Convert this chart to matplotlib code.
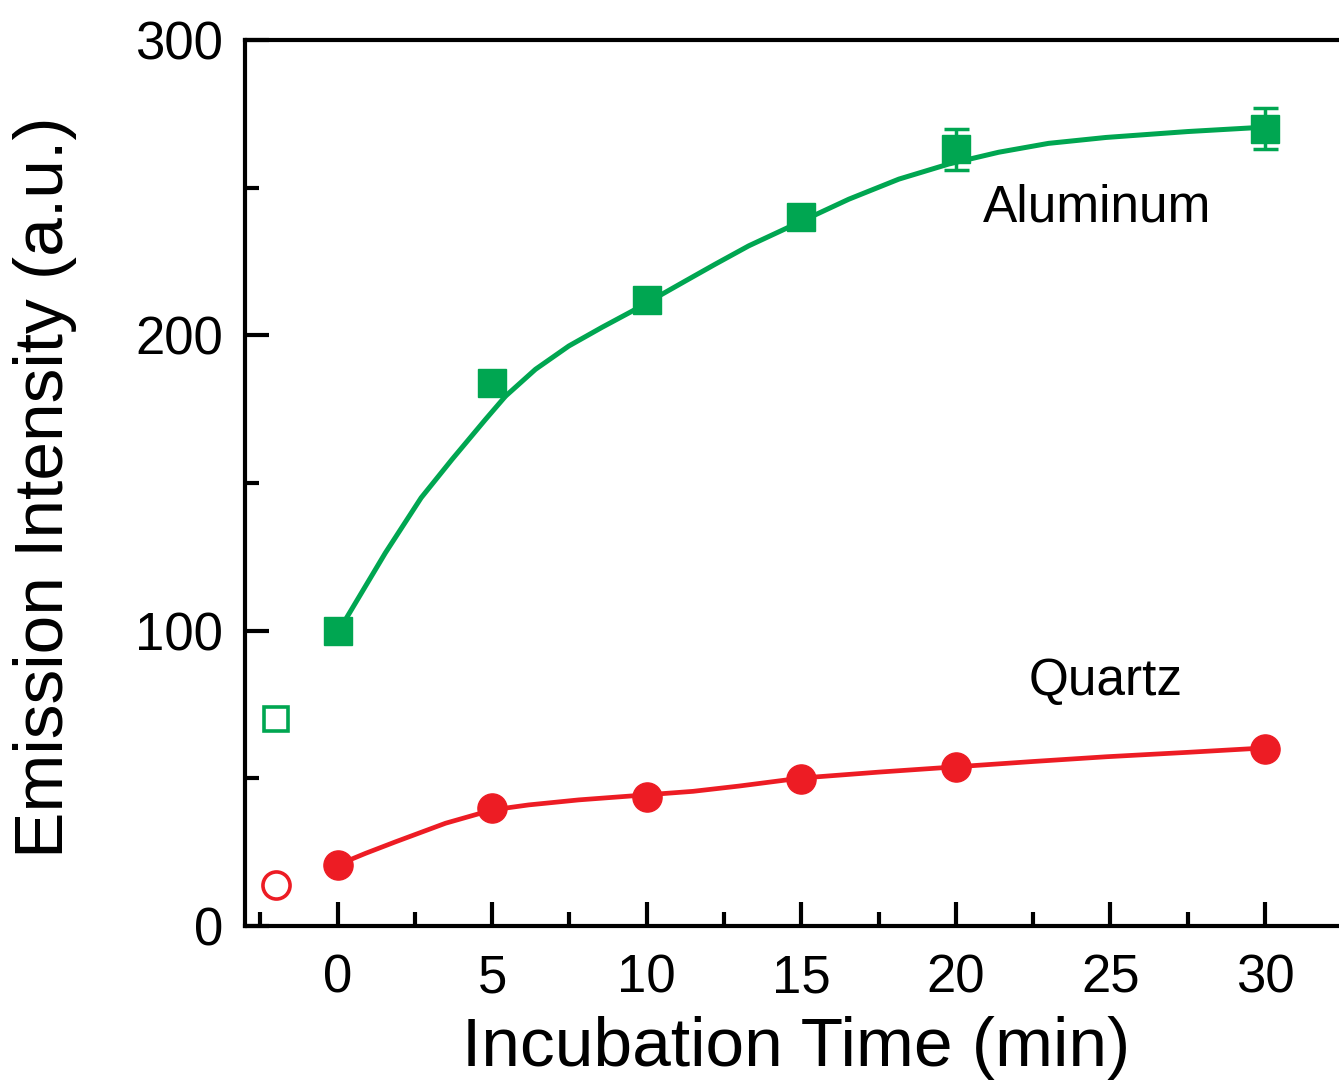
"""
Emission intensity vs incubation time on aluminum and quartz substrates.
Markers are the measured points, solid lines are the fitted curves read off the figure.
"""

import matplotlib

matplotlib.use("Agg")
import matplotlib.pyplot as plt
from matplotlib.ticker import MultipleLocator

plt.rcParams["font.family"] = ["Liberation Sans", "DejaVu Sans"]

GREEN = "#00a651"
RED = "#ed1c24"

# measured points
time_min = [0, 5, 10, 15, 20, 30]
aluminum = [100, 184, 212, 240, 263, 270]
aluminum_err = [3, 4, 3, 4, 7, 7]
quartz = [20.7, 40, 43.7, 49.8, 53.9, 60]
quartz_err = [2, 2, 2, 2, 2, 2]

# reference (no incubation) points, drawn open at x = -2
ref_x = [-2]
ref_aluminum = [70]
ref_quartz = [14]

# fitted curves
fit_al_x = [0, 0.25, 1.54, 2.7, 3.7, 4.78, 5.43, 6.4, 7.48, 8.55, 9.53,
            11.25, 12.2, 13.3, 14.92, 16.54, 18.16, 19.77, 21.39, 23.0,
            24.86, 27.5, 30]
fit_al_y = [100, 103.7, 126.3, 145, 158, 171.5, 179.4, 188.5, 196.4, 202.7,
            208.2, 218.4, 224, 230.3, 238.2, 246.1, 252.9, 258, 262, 265,
            267, 269, 270.5]
fit_q_x = [0, 0.9, 1.87, 3.49, 5, 6.18, 7.8, 9.97, 11.5, 13, 15, 17.5, 20,
           22.5, 24.86, 27.5, 30]
fit_q_y = [20.7, 24.6, 28.5, 34.8, 39.3, 41, 42.7, 44.4, 45.6, 47.4, 50.1,
           52.1, 53.9, 55.7, 57.3, 58.8, 60.3]


fig = plt.figure(figsize=(13.39, 10.85), dpi=100)
ax = fig.add_axes([245 / 1339, 1 - 926 / 1085, (1339 - 245) / 1339, (926 - 40) / 1085])

# fit lines
ax.plot(fit_al_x, fit_al_y, color=GREEN, lw=3.6, zorder=2,
        solid_joinstyle="round")
ax.plot(fit_q_x, fit_q_y, color=RED, lw=3.4, zorder=2,
        solid_joinstyle="round")

# data with error bars
ax.errorbar(time_min, aluminum, yerr=aluminum_err, fmt="s", color=GREEN,
            ms=20, elinewidth=2.5, capsize=9, capthick=2.5, zorder=3)
ax.errorbar(time_min, quartz, yerr=quartz_err, fmt="o", color=RED,
            ms=21, elinewidth=2.5, capsize=7, capthick=2.5, zorder=3)

# open reference markers
ax.plot(ref_x, ref_aluminum, "s", ms=17, mfc="white", mec=GREEN, mew=2.6)
ax.plot(ref_x, ref_quartz, "o", ms=19.5, mfc="white", mec=RED, mew=2.6)

ax.text(24.56, 243, "Aluminum", fontsize=37, ha="center", va="center")
ax.text(24.86, 82.7, "Quartz", fontsize=37, ha="center", va="center")

ax.set_xlim(-3, 32.4)
ax.set_ylim(0, 300)
ax.xaxis.set_major_locator(MultipleLocator(5))
ax.xaxis.set_minor_locator(MultipleLocator(2.5))
ax.yaxis.set_major_locator(MultipleLocator(100))
ax.yaxis.set_minor_locator(MultipleLocator(50))

ax.tick_params(which="both", direction="in", width=3, top=False, right=False)
ax.tick_params(which="major", length=17)
ax.tick_params(which="minor", length=10)
ax.tick_params(axis="x", which="major", labelsize=38, pad=20)
ax.tick_params(axis="y", which="major", labelsize=38, pad=16)

for side in ("left", "bottom", "top"):
    ax.spines[side].set_linewidth(3)
ax.spines["right"].set_visible(False)

ax.set_xlabel("Incubation Time (min)", fontsize=50, va="center")
ax.set_ylabel("Emission Intensity (a.u.)", fontsize=50, va="center")
ax.xaxis.set_label_coords(0.504, (926 - 1048) / 886)
ax.yaxis.set_label_coords((45 - 245) / 1094, 0.4955)

fig.savefig("out.png", dpi=100)
